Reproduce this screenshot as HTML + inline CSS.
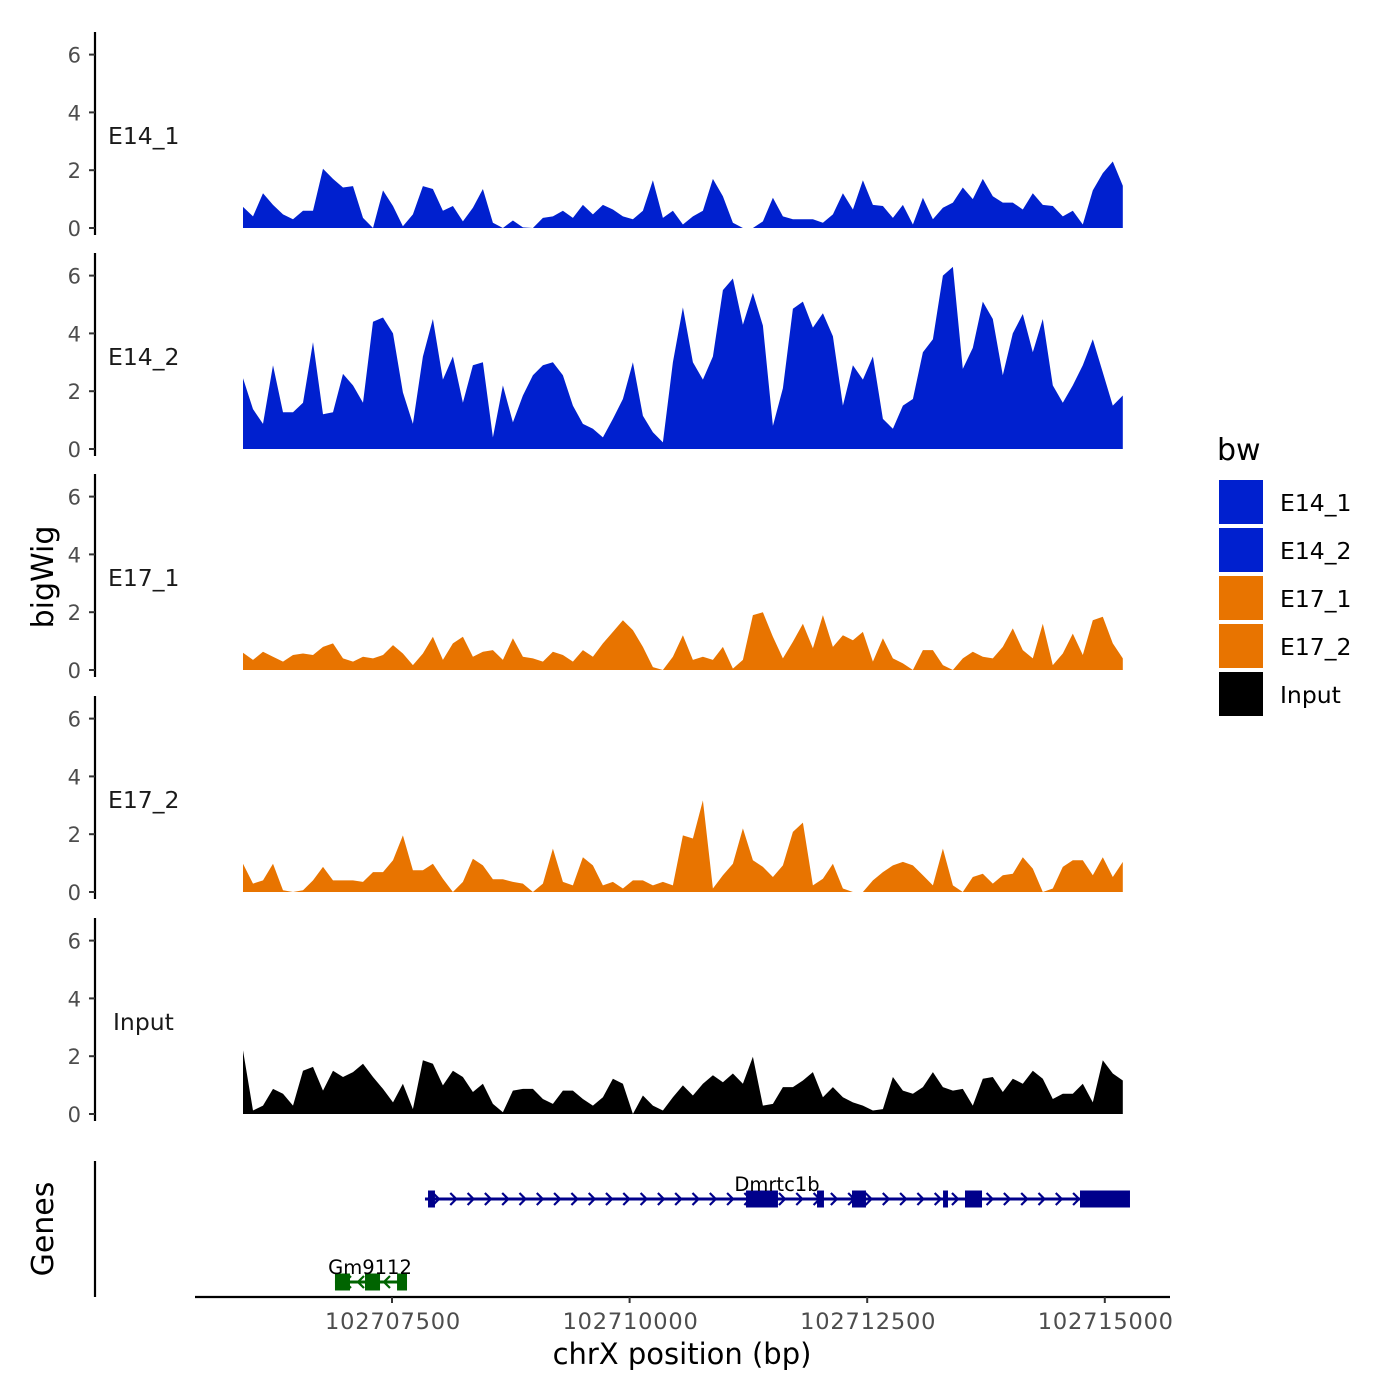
<!DOCTYPE html>
<html><head><meta charset="utf-8"><style>
html,body{margin:0;padding:0;background:#fff;}
svg{display:block;font-family:"DejaVu Sans","Liberation Sans",sans-serif;}
</style></head><body>
<svg id="chart" width="1400" height="1400" viewBox="0 0 1400 1400" xmlns="http://www.w3.org/2000/svg">
<rect width="1400" height="1400" fill="#fff"/>
<g id="tracks"></g>
<g id="genes"></g>
<g id="xaxis"></g>
<text x="53" y="577" font-size="30" text-anchor="middle" transform="rotate(-90 53 577)">bigWig</text>
<text x="53" y="1229" font-size="30" text-anchor="middle" transform="rotate(-90 53 1229)">Genes</text>
<text x="682" y="1364" font-size="29" text-anchor="middle">chrX position (bp)</text>
<g id="legend">
<text x="1217" y="460" font-size="30">bw</text>
</g>
</svg>
<script>
const trackNames = ["E14_1","E14_2","E17_1","E17_2","Input"];
const trackColors = ["#0020CF","#0020CF","#E87400","#E87400","#000000"];
const binStart = 102705932;
const binStep = 105.2;
const e14_1 = [0.73,0.4,1.2,0.8,0.47,0.3,0.6,0.6,2.05,1.7,1.4,1.45,0.35,0,1.3,0.76,0.06,0.47,1.45,1.35,0.6,0.76,0.23,0.7,1.35,0.18,0,0.26,0.02,0,0.35,0.4,0.6,0.35,0.8,0.47,0.8,0.64,0.4,0.3,0.6,1.65,0.35,0.6,0.12,0.4,0.6,1.7,1.1,0.18,0,0,0.23,1.05,0.4,0.3,0.3,0.3,0.18,0.47,1.2,0.64,1.65,0.8,0.76,0.35,0.8,0.12,1.05,0.3,0.7,0.88,1.4,1.0,1.7,1.1,0.88,0.88,0.64,1.2,0.8,0.76,0.4,0.6,0.12,1.3,1.9,2.3,1.46];
const e14_2 = [2.45,1.38,0.87,2.9,1.27,1.27,1.6,3.7,1.2,1.27,2.6,2.2,1.6,4.4,4.55,4.0,1.96,0.87,3.2,4.5,2.4,3.2,1.6,2.9,3.0,0.4,2.2,0.92,1.85,2.55,2.9,3.0,2.55,1.5,0.87,0.7,0.4,1.04,1.73,3.0,1.15,0.58,0.23,3.0,4.9,3.0,2.4,3.2,5.5,5.9,4.3,5.4,4.27,0.8,2.1,4.85,5.1,4.2,4.7,3.9,1.5,2.9,2.4,3.2,1.04,0.7,1.5,1.73,3.35,3.8,6.0,6.3,2.77,3.5,5.1,4.5,2.55,4.0,4.67,3.35,4.5,2.2,1.6,2.2,2.9,3.8,2.65,1.5,1.85];
const e17_1 = [0.6,0.35,0.63,0.46,0.29,0.52,0.57,0.52,0.8,0.92,0.4,0.29,0.46,0.4,0.52,0.86,0.57,0.17,0.57,1.15,0.35,0.92,1.15,0.46,0.63,0.69,0.35,1.1,0.46,0.4,0.29,0.63,0.52,0.29,0.69,0.46,0.92,1.32,1.72,1.38,0.8,0.1,0,0.46,1.2,0.35,0.46,0.35,0.8,0.05,0.35,1.9,2.0,1.15,0.4,0.98,1.6,0.75,1.9,0.8,1.2,1.03,1.32,0.29,1.1,0.4,0.23,0,0.69,0.69,0.17,0,0.4,0.63,0.46,0.4,0.8,1.44,0.69,0.4,1.6,0.17,0.57,1.26,0.52,1.72,1.84,0.92,0.4];
const e17_2 = [0.98,0.29,0.4,0.98,0.06,0,0.06,0.4,0.87,0.4,0.4,0.4,0.35,0.69,0.69,1.1,1.96,0.75,0.75,0.98,0.46,0,0.35,1.15,0.92,0.44,0.44,0.35,0.29,0,0.29,1.5,0.35,0.23,1.2,0.92,0.23,0.35,0.12,0.4,0.4,0.23,0.35,0.23,1.96,1.85,3.17,0.12,0.58,0.98,2.2,1.1,0.87,0.52,0.92,2.08,2.4,0.23,0.46,0.98,0.12,0,0,0.4,0.69,0.92,1.04,0.92,0.58,0.23,1.5,0.23,0,0.52,0.63,0.29,0.58,0.63,1.2,0.81,0,0.12,0.87,1.1,1.1,0.58,1.2,0.52,1.04];
const input = [2.2,0.12,0.29,0.87,0.7,0.29,1.5,1.63,0.81,1.5,1.28,1.45,1.74,1.28,0.87,0.4,1.05,0.17,1.86,1.74,0.99,1.5,1.28,0.76,1.05,0.35,0.06,0.81,0.87,0.87,0.52,0.35,0.81,0.81,0.52,0.29,0.58,1.22,1.05,0,0.64,0.29,0.12,0.58,0.99,0.64,1.05,1.34,1.1,1.4,1.05,1.98,0.29,0.35,0.93,0.93,1.16,1.45,0.58,0.93,0.58,0.4,0.29,0.12,0.17,1.28,0.81,0.7,0.93,1.45,0.93,0.81,0.87,0.29,1.22,1.28,0.76,1.22,1.05,1.5,1.22,0.52,0.7,0.7,1.05,0.4,1.86,1.4,1.16];
const yTicks = [0,2,4,6];
const xTicks = [102707500,102710000,102712500,102715000];
const geneNames = ["Dmrtc1b","Gm9112"];
const dmrtc1bSpan = [102707847,102715233];
const dmrtc1bExons = [[102707879,102707952],[102711225,102711561],[102711972,102712045],[102712340,102712487],[102713298,102713350],[102713529,102713708],[102714739,102715265]];
const gm9112Span = [102706900,102707658];
const gm9112Exons = [[102706900,102707058],[102707216,102707374],[102707553,102707658]];

const NS="http://www.w3.org/2000/svg";
function mk(tag,attrs,parent){const e=document.createElementNS(NS,tag);for(const k in attrs)e.setAttribute(k,attrs[k]);parent.appendChild(e);return e;}
const xScale = bp => 392 + (bp-102707500)*(237.6/2500);
const panelZero = [228,449,670,892,1114];
const yUnit = 28.9;
const allData = [e14_1,e14_2,e17_1,e17_2,input];
const tracksG = document.getElementById('tracks');
allData.forEach((vals,t)=>{
  const z = panelZero[t];
  const g = mk('g',{},tracksG);
  
  
  const ax = mk('line',{x1:95,x2:95,y1:z-196,y2:z+7,stroke:'#000','stroke-width':2.2},g);
  
  
  yTicks.forEach(v=>{
    const y = z - v*yUnit;
    const tk = mk('line',{x1:89,x2:95,y1:y,y2:y,stroke:'#333','stroke-width':2},g);
    
    
    const tl = mk('text',{x:81,y:y+8,'font-size':21,'text-anchor':'end',fill:'#4d4d4d'},g);
    tl.textContent=v;
    
    
  });
  const lab = mk('text',{x:trackNames[t]==='Input'?113:108,y:z-84,'font-size':23.5,fill:'#1a1a1a'},g);
  lab.textContent = trackNames[t];
  
  
  let d = '';
  vals.forEach((v,i)=>{const x=xScale(binStart+i*binStep);d+=(i?'L':'M')+x.toFixed(1)+','+(z-v*yUnit).toFixed(1);});
  d += 'L'+xScale(binStart+(vals.length-1)*binStep).toFixed(1)+','+z+'L'+xScale(binStart).toFixed(1)+','+z+'Z';
  const area = mk('path',{d:d,fill:trackColors[t]},g);
  
  
});
// genes
const gG = document.getElementById('genes');
const gax = mk('line',{x1:95,x2:95,y1:1161,y2:1297,stroke:'#000','stroke-width':2.2},gG);


function drawGene(name,span,exons,y,color,dir,labelX){
  const g = mk('g',{},gG);
  
  
  const x1=xScale(span[0]),x2=xScale(span[1]);
  mk('line',{x1:x1,x2:x2,y1:y,y2:y,stroke:color,'stroke-width':3},g);
  const step = dir>0?17.3:13;
  for(let x=x1+12;x<x2-6;x+=step){
    const p = dir>0?`M${x-4},${y-6}L${x+2},${y}L${x-4},${y+6}`:`M${x+4},${y-6}L${x-2},${y}L${x+4},${y+6}`;
    mk('path',{d:p,stroke:color,'stroke-width':2.2,fill:'none'},g);
  }
  exons.forEach(e=>{
    const a=xScale(e[0]),b=xScale(e[1]);
    const r=mk('rect',{x:a,y:y-8.5,width:Math.max(b-a,4),height:17,fill:color},g);
    
    
  });
  const t=mk('text',{x:labelX,y:y-8,'font-size':19.5,'text-anchor':'middle',fill:'#000'},g);
  t.textContent=name;
  
  
}
drawGene(geneNames[0],dmrtc1bSpan,dmrtc1bExons,1199,'#00008B',1,777);
drawGene(geneNames[1],gm9112Span,gm9112Exons,1282,'#006400',-1,370);
// x axis
const xa = document.getElementById('xaxis');
mk('line',{x1:195,x2:1170,y1:1297,y2:1297,stroke:'#000','stroke-width':2.2},xa);
xTicks.forEach(v=>{
  const x=xScale(v);
  const tk=mk('line',{x1:x,x2:x,y1:1297,y2:1303,stroke:'#333','stroke-width':2},xa);
  
  
  const tl=mk('text',{x:x+1,y:1329,'font-size':22.5,'text-anchor':'middle',fill:'#4d4d4d','letter-spacing':'0.8'},xa);
  tl.textContent=v;
  
  
});
// legend
const lg=document.getElementById('legend');
const legendColors=["#0020CF","#0020CF","#E87400","#E87400","#000000"];
trackNames.forEach((n,i)=>{
  const y=480+i*48;
  const r=mk('rect',{x:1219,y:y,width:44,height:44,fill:legendColors[i]},lg);
  
  
  const t=mk('text',{x:1280,y:y+31,'font-size':23.5,fill:'#000'},lg);
  t.textContent=n;
  
  
});
</script>
</body></html>
